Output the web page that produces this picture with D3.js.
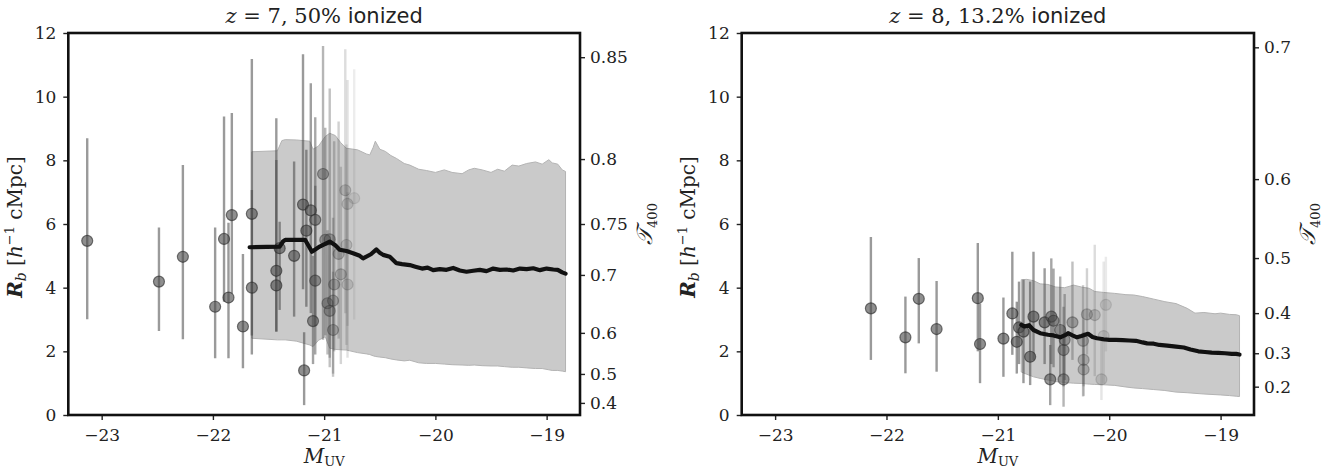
<!DOCTYPE html>
<html><head><meta charset="utf-8">
<script src="https://cdn.jsdelivr.net/npm/d3@7"></script>
<style>body{margin:0;background:#fff}svg{display:block}</style>
</head><body>
<svg id="c" width="1335" height="468"></svg>
<script>
// ---------- data ----------
const xTicks = [-23, -22, -21, -20, -19];
const yTicks = [0, 2, 4, 6, 8, 10, 12];

// Panel A: z = 7, 50% ionized
const titleA = ["z", " = 7,  50%", " ionized"];
const ptsA_m  = [-23.13,-22.485,-22.27,-21.98,-21.90,-21.86,-21.83,-21.73,-21.65,-21.65,-21.43,-21.43,-21.40,-21.27,-21.19,-21.18,-21.16,-21.12,-21.08,-21.08,-21.10,-21.01,-20.99,-20.95,-20.97,-20.95,-20.92,-20.92,-20.91,-20.87,-20.85,-20.81,-20.79,-20.73,-20.80,-20.79];
const ptsA_r  = [5.47,4.19,4.97,3.40,5.53,3.69,6.28,2.78,6.32,4.00,4.53,4.07,5.24,5.00,6.61,1.40,5.79,6.43,6.13,4.22,2.95,7.57,5.50,5.52,3.51,3.27,3.59,2.67,4.10,5.06,4.42,7.06,6.63,6.81,5.34,4.10];
const ptsA_lo = [3.01,2.64,2.38,1.78,3.56,1.78,3.82,1.47,1.90,2.50,2.62,2.62,3.30,3.09,3.95,0.31,3.40,3.20,2.80,1.90,1.60,2.36,2.50,1.80,1.90,1.50,1.20,1.30,2.00,2.40,1.60,3.20,2.80,3.00,2.20,1.80];
const ptsA_hi = [8.69,5.89,7.85,5.89,9.38,6.04,9.49,5.06,11.18,7.07,9.32,8.01,6.07,7.96,11.33,2.60,8.33,10.42,9.35,7.20,5.00,11.59,9.02,10.26,5.80,5.50,6.20,4.50,8.60,9.22,7.80,11.49,10.52,10.86,8.50,7.00];
const bandA_m  = [-21.65,-21.42,-21.38,-21.35,-21.25,-21.13,-21.10,-21.05,-20.99,-20.95,-20.90,-20.85,-20.80,-20.70,-20.62,-20.59,-20.56,-20.54,-20.50,-20.45,-20.40,-20.35,-20.28,-20.23,-20.15,-20.08,-20.00,-19.92,-19.85,-19.76,-19.70,-19.65,-19.58,-19.50,-19.44,-19.38,-19.31,-19.25,-19.18,-19.10,-19.04,-18.98,-18.95,-18.90,-18.86,-18.83];
const bandA_hi = [8.27,8.30,8.62,8.65,8.64,8.60,8.35,8.45,8.75,8.85,8.78,8.55,8.38,8.33,8.20,8.17,8.40,8.60,8.35,8.28,8.15,8.06,7.90,7.85,7.72,7.68,7.62,7.70,7.62,7.58,7.70,7.75,7.70,7.62,7.72,7.66,7.85,7.82,7.90,7.95,7.88,8.02,7.92,7.88,7.70,7.65];
const bandA_lo = [2.41,2.36,2.36,2.36,2.32,2.20,2.15,2.35,2.46,2.10,2.06,2.05,2.04,1.96,1.92,1.90,1.86,1.84,1.82,1.80,1.76,1.73,1.70,1.72,1.64,1.62,1.62,1.60,1.58,1.57,1.56,1.57,1.55,1.54,1.54,1.52,1.50,1.50,1.48,1.46,1.46,1.42,1.40,1.40,1.38,1.36];
const lineA_m = [-21.67,-21.40,-21.37,-21.35,-21.17,-21.11,-21.04,-20.95,-20.90,-20.86,-20.80,-20.74,-20.68,-20.65,-20.58,-20.53,-20.50,-20.47,-20.41,-20.35,-20.30,-20.23,-20.18,-20.12,-20.07,-20.02,-19.96,-19.90,-19.84,-19.78,-19.72,-19.66,-19.60,-19.54,-19.48,-19.42,-19.36,-19.30,-19.24,-19.18,-19.12,-19.06,-19.00,-18.94,-18.90,-18.86,-18.83];
const lineA_r = [5.27,5.29,5.45,5.50,5.50,5.13,5.29,5.45,5.33,5.19,5.15,5.08,5.00,4.92,5.05,5.20,5.10,5.03,4.97,4.77,4.74,4.71,4.66,4.60,4.63,4.55,4.58,4.56,4.62,4.54,4.50,4.53,4.56,4.52,4.60,4.56,4.57,4.54,4.60,4.58,4.61,4.55,4.60,4.57,4.56,4.48,4.44];
const tauA_ticks = [0.4, 0.5, 0.6, 0.7, 0.75, 0.8, 0.85];
const tauA_rb    = [0.38, 1.29, 2.58, 4.40, 6.0, 8.04, 11.24];

// Panel B: z = 8, 13.2% ionized
const titleB = ["z", " = 8,  13.2%", " ionized"];
const ptsB_m  = [-22.14,-21.83,-21.71,-21.55,-21.18,-21.16,-20.95,-20.87,-20.83,-20.81,-20.77,-20.71,-20.68,-20.58,-20.53,-20.52,-20.50,-20.44,-20.41,-20.41,-20.40,-20.33,-20.235,-20.23,-20.23,-20.20,-20.13,-20.07,-20.05,-20.03];
const ptsB_r  = [3.35,2.44,3.65,2.70,3.67,2.23,2.40,3.19,2.30,2.75,2.62,1.83,3.09,2.91,1.12,3.09,2.96,2.67,2.04,1.12,2.36,2.91,2.33,1.73,1.43,3.16,3.14,1.12,2.48,3.46];
const ptsB_lo = [1.73,1.31,2.25,1.36,2.00,1.00,1.20,1.89,1.30,1.60,1.00,0.94,1.73,1.60,0.31,1.60,1.50,1.20,0.90,0.26,1.10,1.73,0.58,0.90,0.60,1.90,1.22,0.47,1.00,2.00];
const ptsB_hi = [5.59,3.72,4.93,4.21,5.40,3.50,3.69,5.13,3.56,4.19,4.25,4.19,5.13,4.61,2.20,4.92,4.60,4.35,3.40,2.50,3.80,4.82,4.08,3.00,2.60,4.61,5.35,2.40,4.82,4.97];
const bandB_m  = [-20.79,-20.74,-20.68,-20.62,-20.55,-20.48,-20.40,-20.32,-20.25,-20.18,-20.13,-20.05,-19.95,-19.85,-19.78,-19.70,-19.60,-19.50,-19.40,-19.30,-19.23,-19.15,-19.05,-19.00,-18.92,-18.86,-18.83];
const bandB_hi = [4.25,4.26,4.22,4.12,4.10,4.02,4.00,4.08,4.02,3.98,3.88,3.85,3.82,3.78,3.77,3.72,3.64,3.56,3.50,3.35,3.20,3.22,3.18,3.20,3.16,3.15,3.12];
const bandB_lo = [1.35,1.28,1.20,1.15,1.10,1.05,1.02,1.00,0.99,0.97,0.96,0.95,0.93,0.88,0.85,0.83,0.80,0.77,0.72,0.70,0.68,0.66,0.64,0.63,0.61,0.59,0.58];
const lineB_m = [-20.79,-20.76,-20.72,-20.68,-20.62,-20.55,-20.50,-20.44,-20.40,-20.37,-20.33,-20.29,-20.25,-20.19,-20.15,-20.11,-20.05,-20.00,-19.94,-19.88,-19.82,-19.76,-19.70,-19.66,-19.60,-19.55,-19.48,-19.40,-19.33,-19.27,-19.20,-19.14,-19.08,-19.02,-18.96,-18.90,-18.86,-18.83];
const lineB_r = [2.83,2.78,2.82,2.67,2.57,2.52,2.50,2.44,2.50,2.57,2.50,2.44,2.48,2.55,2.45,2.41,2.38,2.36,2.36,2.35,2.34,2.33,2.28,2.25,2.24,2.20,2.18,2.15,2.12,2.06,2.00,1.98,1.96,1.95,1.94,1.92,1.92,1.90];
const tauB_ticks = [0.2, 0.3, 0.4, 0.5, 0.6, 0.7];
const tauB_rb    = [0.89, 1.94, 3.20, 4.93, 7.41, 11.55];

// ---------- drawing ----------
const svg = d3.select("#c");
const SERIF = "'DejaVu Serif', serif", SANS = "'DejaVu Sans', sans-serif";
const yTop = 33, yBot = 415;

const panels = [
  {x0:68.3, x1:580, title:titleA, m:ptsA_m, r:ptsA_r, lo:ptsA_lo, hi:ptsA_hi,
   bm:bandA_m, bhi:bandA_hi, blo:bandA_lo, lm:lineA_m, lr:lineA_r,
   tt:tauA_ticks, trb:tauA_rb, fade:[-21.15,-20.72], ylabX:22, tlabX:645},
  {x0:741.7, x1:1254, title:titleB, m:ptsB_m, r:ptsB_r, lo:ptsB_lo, hi:ptsB_hi,
   bm:bandB_m, bhi:bandB_hi, blo:bandB_lo, lm:lineB_m, lr:lineB_r,
   tt:tauB_ticks, trb:tauB_rb, fade:[-20.6,-20.0], ylabX:695, tlabX:1308}
];

panels.forEach(p => {
  const x = d3.scaleLinear().domain([-23.3, -18.7]).range([p.x0, p.x1]);
  const y = d3.scaleLinear().domain([0, 12]).range([yBot, yTop]);
  const yT = d3.scaleLinear().domain(p.tt).range(p.trb.map(v => y(v)));
  const alpha = d3.scaleLinear().domain(p.fade).range([0.62, 0.1]).clamp(true);
  const g = svg.append("g");

  const clipId = "clip" + Math.round(p.x0);
  svg.append("clipPath").attr("id", clipId).append("rect")
    .attr("x", p.x0).attr("y", yTop).attr("width", p.x1 - p.x0).attr("height", yBot - yTop);
  const plot = g.append("g").attr("clip-path", `url(#${clipId})`);

  // band
  const band = p.bm.map((m, i) => ({m, hi: p.bhi[i], lo: p.blo[i]}));
  plot.append("path").datum(band)
    .attr("d", d3.area().x(d => x(d.m)).y0(d => y(d.lo)).y1(d => y(d.hi)))
    .attr("fill", "#cacaca").attr("stroke", "#b3b3b3").attr("stroke-width", 1);

  // points with error bars
  const pts = p.m.map((m, i) => ({m, r: p.r[i], lo: p.lo[i], hi: p.hi[i]}));
  plot.selectAll("line.eb").data(pts).join("line").attr("class", "eb")
    .attr("x1", d => x(d.m)).attr("x2", d => x(d.m))
    .attr("y1", d => y(d.lo)).attr("y2", d => y(d.hi))
    .attr("stroke", "#4a4a4a").attr("stroke-width", 2.4)
    .attr("stroke-opacity", d => alpha(d.m) * 0.9);
  plot.selectAll("circle").data(pts).join("circle")
    .attr("cx", d => x(d.m)).attr("cy", d => y(d.r)).attr("r", 5.5)
    .attr("fill", "#4a4a4a").attr("fill-opacity", d => alpha(d.m))
    .attr("stroke", "#2a2a2a").attr("stroke-opacity", d => alpha(d.m)).attr("stroke-width", 1.2);

  // mean line
  const ln = p.lm.map((m, i) => ({m, r: p.lr[i]}));
  plot.append("path").datum(ln)
    .attr("d", d3.line().x(d => x(d.m)).y(d => y(d.r)))
    .attr("fill", "none").attr("stroke", "#111").attr("stroke-width", 4.2)
    .attr("stroke-linejoin", "round").attr("stroke-linecap", "round");

  // axes
  const ax = g.append("g").attr("transform", `translate(0,${yBot})`)
    .call(d3.axisBottom(x).tickValues(xTicks).tickSize(5).tickPadding(9).tickFormat(d3.format("d")));
  const ay = g.append("g").attr("transform", `translate(${p.x0},0)`)
    .call(d3.axisLeft(y).tickValues(yTicks).tickSize(5).tickPadding(7).tickFormat(d3.format("d")));
  const ar = g.append("g").attr("transform", `translate(${p.x1},0)`)
    .call(d3.axisRight(yT).tickValues(p.tt).tickSize(5).tickPadding(5).tickFormat(d => String(d)));
  [ax, ay, ar].forEach(a => {
    a.select(".domain").remove();
    a.selectAll(".tick line").attr("stroke", "#222").attr("stroke-width", 1.4);
    a.selectAll(".tick text").style("font-family", SERIF).style("font-size", "17px").attr("fill", "#222");
  });

  // frame
  g.append("rect").attr("x", p.x0).attr("y", yTop).attr("width", p.x1 - p.x0).attr("height", yBot - yTop)
    .attr("fill", "none").attr("stroke", "#111").attr("stroke-width", 2.6);

  const cx = (p.x0 + p.x1) / 2;
  // title
  const t = g.append("text").attr("x", cx).attr("y", 23).attr("text-anchor", "middle")
    .style("font-size", "21px").attr("fill", "#222");
  t.append("tspan").style("font-family", SERIF).style("font-style", "italic").text(p.title[0]);
  t.append("tspan").style("font-family", SERIF).text(p.title[1]);
  t.append("tspan").style("font-family", SANS).text(p.title[2]);

  // x label
  const xl = g.append("text").attr("x", cx).attr("y", 463).attr("text-anchor", "middle")
    .style("font-family", SERIF).attr("fill", "#222");
  xl.append("tspan").style("font-style", "italic").style("font-size", "20px").text("M");
  xl.append("tspan").style("font-size", "13px").attr("dy", 3).text("UV");

  // y label
  const yl = g.append("text").attr("transform", `translate(${p.ylabX},227) rotate(-90)`)
    .attr("text-anchor", "middle").style("font-family", SERIF).style("font-size", "20px").attr("fill", "#222");
  yl.append("tspan").style("font-style", "italic").style("font-weight", "bold").text("R");
  yl.append("tspan").style("font-style", "italic").style("font-size", "14px").attr("dy", 4).text("b");
  yl.append("tspan").attr("dy", -4).text(" [");
  yl.append("tspan").style("font-style", "italic").text("h");
  yl.append("tspan").style("font-size", "13px").attr("dy", -8).text("−1");
  yl.append("tspan").attr("dy", 8).text(" cMpc]");

  // right (tau) label
  const tl = g.append("text").attr("transform", `translate(${p.tlabX + 7},224) rotate(-90)`)
    .attr("text-anchor", "middle").style("font-family", SERIF).style("font-size", "22px").attr("fill", "#222");
  tl.append("tspan").style("font-style", "italic").text("𝒯");
  tl.append("tspan").style("font-size", "13px").attr("dy", 5).text("400");
});
</script>
</body></html>
